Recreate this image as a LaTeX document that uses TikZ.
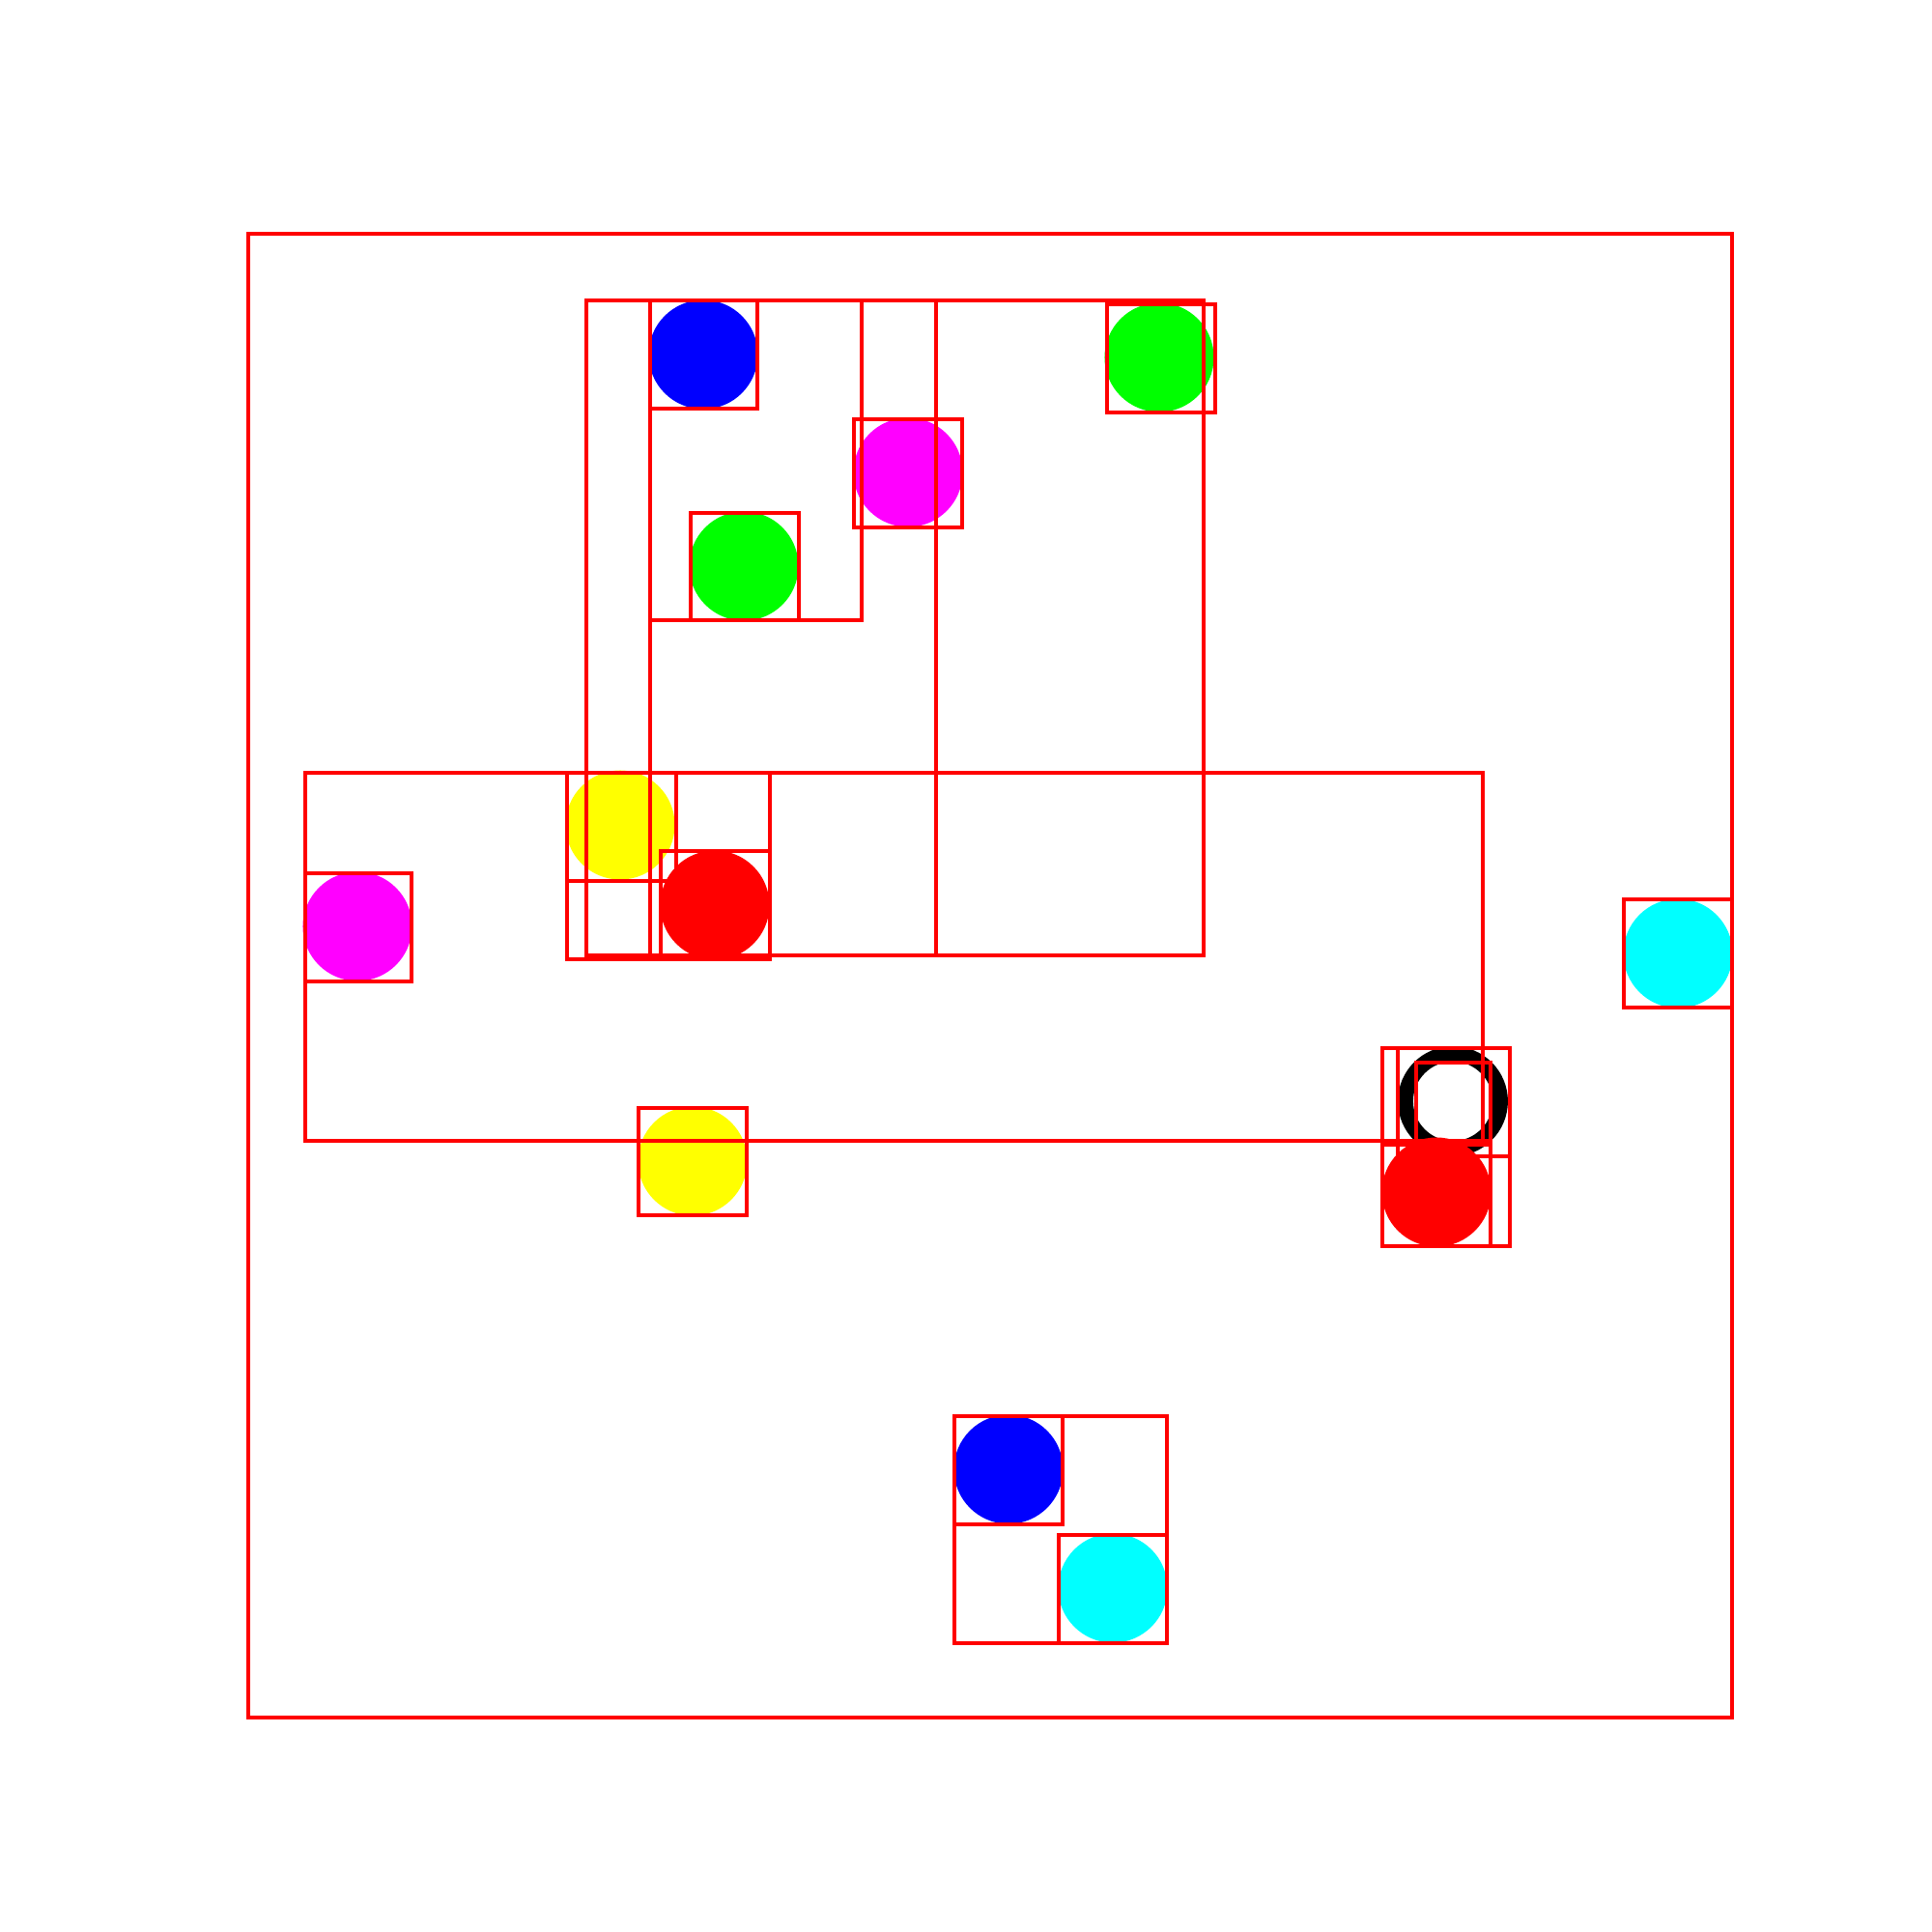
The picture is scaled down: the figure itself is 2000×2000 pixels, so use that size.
\documentclass[tikz,border=0pt]{standalone}
\definecolor{pblue}{RGB}{0,0,255}
\definecolor{pgreen}{RGB}{0,255,0}
\definecolor{pmag}{RGB}{255,0,255}
\definecolor{pyel}{RGB}{255,255,0}
\definecolor{pcyan}{RGB}{0,255,255}
\definecolor{pred}{RGB}{255,0,0}
\begin{document}
\begin{tikzpicture}[x=0.01cm,y=-0.01cm,
  dot/.style={circle,inner sep=0pt,minimum size=1.13cm,draw=none},
  box/.style={draw=pred,line width=1pt}]
\useasboundingbox (0,0) rectangle (2000,2000);
% points
\node[dot,fill=pblue] (b1) at (728,367) {};
\node[dot,fill=pgreen] (g1) at (1200,370) {};
\node[dot,fill=pmag] (m1) at (940,489) {};
\node[dot,fill=pgreen] (g2) at (770,586) {};
\node[dot,fill=pyel] (y1) at (642,854) {};
\node[dot,fill=pred] (r1) at (740,937) {};
\node[dot,fill=pmag] (m2) at (370,959) {};
\node[dot,fill=pyel] (y2) at (717,1202) {};
\node[dot,fill=pcyan] (c1) at (1737,987) {};
\node[circle,inner sep=0pt,minimum size=0.98cm,draw=black,line width=4.5pt] (k1) at (1504,1140) {};
\node[dot,fill=pred] (r2) at (1487,1234) {};
\node[dot,fill=pblue] (b2) at (1044,1521) {};
\node[dot,fill=pcyan] (c2) at (1152,1644) {};
% boxes
\draw[box] (257,242) rectangle (1793,1778);
\draw[box] (607,311) rectangle (1246,989);
\draw[box] (673,311) rectangle (969,989);
\draw[box] (673,311) rectangle (892,642);
\draw[box] (673,311) rectangle (784,423);
\draw[box] (1146,315) rectangle (1258,427);
\draw[box] (884,434) rectangle (996,546);
\draw[box] (715,531) rectangle (827,642);
\draw[box] (316,800) rectangle (1535,1181);
\draw[box] (587,800) rectangle (700,912);
\draw[box] (587,800) rectangle (797,993);
\draw[box] (684,881) rectangle (797,993);
\draw[box] (316,904) rectangle (426,1016);
\draw[box] (661,1147) rectangle (773,1258);
\draw[box] (1681,931) rectangle (1793,1043);
\draw[box] (1431,1085) rectangle (1563,1290);
\draw[box] (1447,1085) rectangle (1563,1197);
\draw[box] (1466,1100) rectangle (1543,1181);
\draw[box] (1431,1185) rectangle (1543,1290);
\draw[box] (988,1466) rectangle (1208,1701);
\draw[box] (988,1466) rectangle (1100,1578);
\draw[box] (1096,1589) rectangle (1208,1701);
\end{tikzpicture}
\end{document}
